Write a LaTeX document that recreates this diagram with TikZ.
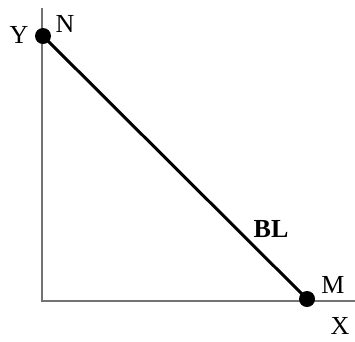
\documentclass[tikz,border=0pt]{standalone}
\usepackage{fontspec}
\setmainfont{Liberation Serif}
\begin{document}
\begin{tikzpicture}[x=1pt,y=-1pt,
  axis/.style={draw=gray!90!black,line width=2pt},
  bar/.style={draw=black,line width=3pt},
  dot/.style={circle,fill=black,inner sep=0pt,minimum size=16pt},
  lbl/.style={font=\fontsize{26}{30}\selectfont,inner sep=0pt}]
\useasboundingbox (0,0) rectangle (355,341);
\coordinate (top) at (42,8);
\coordinate (O) at (42,301);
\coordinate (right) at (355,301);
\draw[axis] (top) -- (O) -- (right);
\node[dot] (N) at (43,36) {};
\node[dot] (M) at (307,299) {};
\draw[bar] (N.center) -- (M.center);
\node[lbl] (Y) at (19,35) {Y};
\node[lbl] (Nl) at (65,24) {N};
\node[lbl] (Ml) at (333,285) {M};
\node[lbl] (X) at (340,326) {X};
\node[lbl,font=\fontsize{26}{30}\selectfont\bfseries] (BL) at (271,229) {BL};
\end{tikzpicture}
\end{document}
